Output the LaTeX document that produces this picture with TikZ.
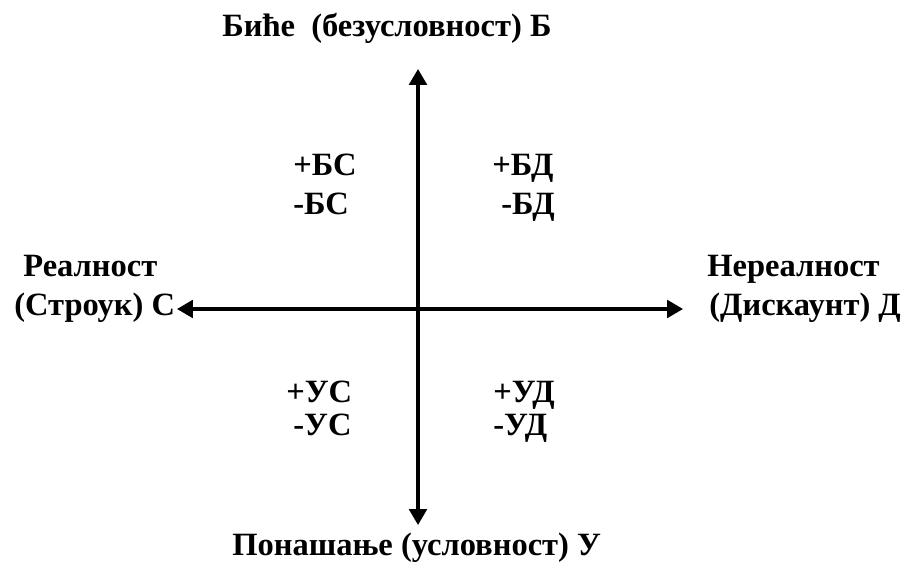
\documentclass[tikz,border=0pt]{standalone}
\usepackage{fontspec}
\setmainfont{Liberation Serif}
\usetikzlibrary{arrows.meta}
\newcommand{\axfont}{\fontsize{18.5}{22}\selectfont\bfseries}
\tikzset{
  axlabel/.style={font=\axfont, anchor=base west, inner sep=0pt},
  axis/.style={line width=1.8pt, {Triangle[length=9pt, width=10pt]}-{Triangle[length=9pt, width=10pt]}}
}
\begin{document}
\begin{tikzpicture}[x=0.02cm, y=-0.02cm]
  \useasboundingbox (0,0) rectangle (911,570);
  % axes
  \coordinate (top) at (418,69);
  \coordinate (bot) at (418,525);
  \coordinate (lft) at (177,309);
  \coordinate (rgt) at (683,309);
  \draw[axis] (top) -- (bot);
  \draw[axis] (lft) -- (rgt);
  % pole labels
  \node[axlabel] (bice) at (222,37) {Биће\ \ (безусловност) Б};
  \node[axlabel] (ponas) at (232,555) {Понашање (условност) У};
  \node[axlabel] (real) at (23,276) {Реалност};
  \node[axlabel] (strouk) at (14,316) {(Строук) С};
  \node[axlabel] (nereal) at (707,276) {Нереалност};
  \node[axlabel] (disk) at (709,316) {(Дискаунт) Д};
  % quadrants
  \node[axlabel] (pbs) at (293,176) {+БС};
  \node[axlabel] (mbs) at (293,215) {-БС};
  \node[axlabel] (pbd) at (492,176) {+БД};
  \node[axlabel] (mbd) at (501,215) {-БД};
  \node[axlabel] (pus) at (286,402) {+УС};
  \node[axlabel] (mus) at (293,435) {-УС};
  \node[axlabel] (pud) at (493,402) {+УД};
  \node[axlabel] (mud) at (493,435) {-УД};
\end{tikzpicture}
\end{document}
